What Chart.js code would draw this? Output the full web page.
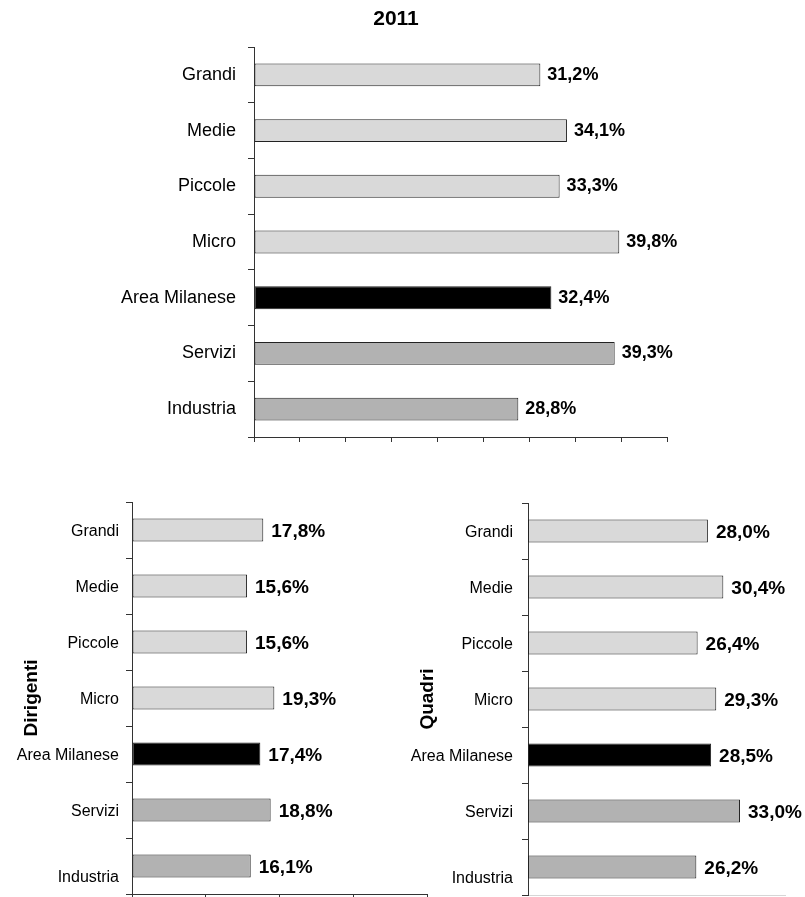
<!DOCTYPE html>
<html lang="it">
<head>
<meta charset="utf-8">
<title>2011</title>
<script src="https://cdn.jsdelivr.net/npm/chart.js@4/dist/chart.umd.min.js"></script>
<style>
  html, body { margin: 0; padding: 0; width: 805px; height: 897px; overflow: hidden; background: #fff; }
  canvas { position: absolute; left: 0; }
  #cTop { top: 0; }
  #cDir, #cQua { top: 460px; }
</style>
</head>
<body>
<canvas id="cTop" width="805" height="480"></canvas>
<canvas id="cDir" width="805" height="480"></canvas>
<canvas id="cQua" width="805" height="480"></canvas>
<script>
// Categories shared by the three panels (top to bottom)
const categories = ['Grandi', 'Medie', 'Piccole', 'Micro', 'Area Milanese', 'Servizi', 'Industria'];

// Percent values, one per category
const totale2011 = [31.2, 34.1, 33.3, 39.8, 32.4, 39.3, 28.8];
const dirigenti  = [17.8, 15.6, 15.6, 19.3, 17.4, 18.8, 16.1];
const quadri     = [28.0, 30.4, 26.4, 29.3, 28.5, 33.0, 26.2];

// Bar fill by group: size classes, area total, sectors
const barFills = ['#d9d9d9', '#d9d9d9', '#d9d9d9', '#d9d9d9', '#000000', '#b2b2b2', '#b2b2b2'];

const FONT = "'Liberation Sans', Arial, Helvetica, sans-serif";
const AXIS = '#333333';

const fmtPct = v => v.toFixed(1).replace('.', ',') + '%';

// Draws the value at the end of each bar
const valueLabels = {
  id: 'valueLabels',
  afterDatasetsDraw(chart, args, opts) {
    const ctx = chart.ctx;
    const meta = chart.getDatasetMeta(0);
    const data = chart.data.datasets[0].data;
    ctx.save();
    ctx.font = 'bold ' + opts.size + 'px ' + FONT;
    ctx.fillStyle = '#000';
    ctx.textAlign = 'left';
    ctx.textBaseline = 'middle';
    meta.data.forEach((bar, i) => {
      ctx.fillText(fmtPct(data[i]), bar.x + opts.dx, bar.y + opts.dy);
    });
    ctx.restore();
  }
};

// Heading centred over the whole figure rather than over the plot
const figureTitle = {
  id: 'figureTitle',
  afterDraw(chart, args, opts) {
    if (!opts.text) return;
    const ctx = chart.ctx;
    ctx.save();
    ctx.font = 'bold ' + opts.size + 'px ' + FONT;
    ctx.fillStyle = '#000';
    ctx.textAlign = 'center';
    ctx.textBaseline = 'middle';
    ctx.fillText(opts.text, opts.x, opts.y);
    ctx.restore();
  }
};

function makeChart(id, values, cfg) {
  return new Chart(document.getElementById(id), {
    type: 'bar',
    data: {
      labels: categories,
      datasets: [{
        data: values,
        backgroundColor: barFills,
        borderColor: '#222222',
        borderWidth: 1,
        borderSkipped: false,
        barPercentage: 0.41,
        categoryPercentage: 1
      }]
    },
    options: {
      indexAxis: 'y',
      responsive: false,
      animation: false,
      events: [],
      layout: { padding: cfg.padding },
      plugins: {
        legend: { display: false },
        tooltip: { enabled: false },
        title: { display: false },
        figureTitle: cfg.heading || {},
        valueLabels: cfg.values
      },
      scales: {
        x: {
          type: 'linear',
          min: 0,
          max: cfg.max,
          ticks: { display: false, stepSize: cfg.step },
          grid: {
            display: cfg.xTicks,
            drawOnChartArea: false,
            drawTicks: true,
            tickLength: 5,
            color: AXIS
          },
          border: { display: true, color: cfg.xBorder, width: 1 },
          afterFit: s => { s.height = 8; }
        },
        y: {
          ticks: {
            color: '#000',
            font: { family: FONT, size: cfg.labelSize },
            padding: cfg.labelPad,
            labelOffset: cfg.labelOffset,
            callback: cfg.labelCb || ((v, i) => categories[i])
          },
          grid: {
            display: true,
            drawOnChartArea: false,
            drawTicks: true,
            tickLength: 6,
            color: AXIS
          },
          border: { display: true, color: AXIS, width: 1 },
          title: cfg.yTitle || { display: false },
          afterFit: s => { s.width = cfg.yWidth; }
        }
      }
    },
    plugins: [valueLabels, figureTitle]
  });
}

// Last category label sits a line lower in the two lower panels
const lowLastLabel = (v, i) => (i === categories.length - 1 ? ['', categories[i]] : categories[i]);

// Upper panel: 2011 total
makeChart('cTop', totale2011, {
  padding: { left: 0, right: 138, top: 47, bottom: 35 },
  yWidth: 254,
  max: 45, step: 5,
  xTicks: true, xBorder: AXIS,
  labelSize: 18, labelPad: 12, labelOffset: 0,
  values: { size: 18, dx: 7, dy: 0 },
  heading: { text: '2011', size: 21, x: 396, y: 19 }
});

// Lower left: Dirigenti
makeChart('cDir', dirigenti, {
  padding: { left: 0, right: 378, top: 42, bottom: 38 },
  yWidth: 132,
  max: 40, step: 10,
  xTicks: true, xBorder: AXIS,
  labelSize: 16, labelPad: 7, labelOffset: 2,
  labelCb: lowLastLabel,
  values: { size: 19, dx: 8, dy: 2 },
  yTitle: {
    display: true,
    text: 'Dirigenti',
    color: '#000',
    font: { family: FONT, size: 19, weight: 'bold' },
    padding: { top: 20.6, bottom: 0 }
  }
});

// Lower right: Quadri
makeChart('cQua', quadri, {
  padding: { left: 400, right: 20, top: 43, bottom: 37 },
  yWidth: 128,
  max: 40, step: 10,
  xTicks: false, xBorder: '#d6d6d6',
  labelSize: 16, labelPad: 9, labelOffset: 2,
  labelCb: lowLastLabel,
  values: { size: 19, dx: 8, dy: 2 },
  yTitle: {
    display: true,
    text: 'Quadri',
    color: '#000',
    font: { family: FONT, size: 19, weight: 'bold' },
    padding: { top: 16.6, bottom: 0 }
  }
});
</script>
</body>
</html>
